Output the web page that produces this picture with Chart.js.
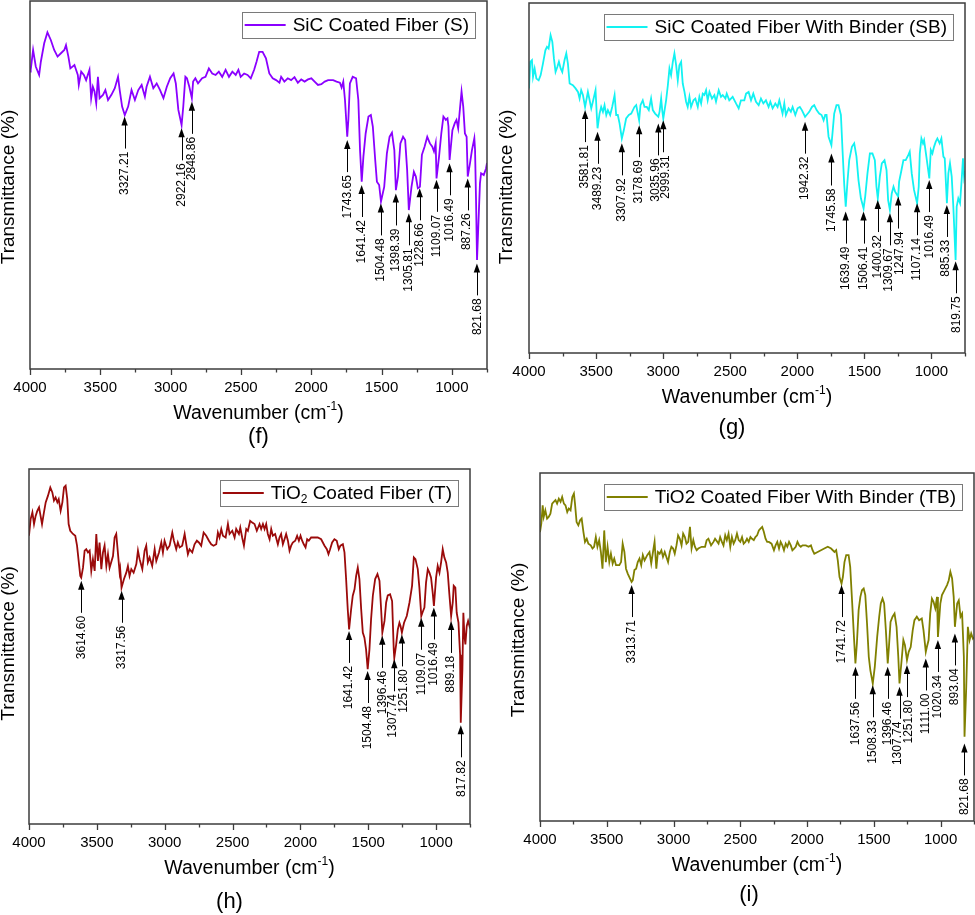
<!DOCTYPE html>
<html><head><meta charset="utf-8">
<script src="https://cdn.jsdelivr.net/npm/chart.js@4.4.0/dist/chart.umd.min.js"></script>
<style>
html,body{margin:0;padding:0;background:#fff;}
#wrap{position:relative;width:975px;height:915px;overflow:hidden;background:#fff;}
canvas{position:absolute;}
</style></head><body><div id="wrap">
<canvas id="cf" width="490" height="465" style="left:0px;top:0px"></canvas>
<canvas id="cg" width="485" height="465" style="left:490px;top:0px"></canvas>
<canvas id="ch" width="490" height="450" style="left:0px;top:465px"></canvas>
<canvas id="ci" width="485" height="450" style="left:490px;top:465px"></canvas>
</div>
<script>
// ---------- shared axis data ----------
const xTickValues = [4000, 3500, 3000, 2500, 2000, 1500, 1000];
const xMinorValues = [3750, 3250, 2750, 2250, 1750, 1250, 750];
const xMax = 4000, xMin = 750;
const xTitle = 'Wavenumber (cm\u207B\u00B9)';
const yTitle = 'Transmittance (%)';

// ---------- (f) SiC coated fiber ----------
const fLabel = 'SiC Coated Fiber (S)';
const fSpectrum = [[4000,80.8],[3995,81.3],[3978,86.7],[3959,82.2],[3935,79.9],[3923,83.5],[3899,88.5],[3876,91.5],[3852,89.4],[3828,86.7],[3804,84.9],[3780,85.8],[3756,86.7],[3744,88.0],[3727,84.9],[3713,81.7],[3684,82.6],[3660,79.9],[3653,77.2],[3636,80.8],[3617,79.9],[3601,78.5],[3577,81.3],[3565,73.6],[3553,76.7],[3541,75.4],[3529,72.2],[3517,79.4],[3505,73.6],[3481,74.5],[3464,75.8],[3445,73.1],[3421,74.5],[3397,76.3],[3374,79.4],[3362,75.8],[3345,71.3],[3326,69.0],[3302,71.3],[3278,75.8],[3254,73.1],[3230,75.8],[3206,77.2],[3183,74.0],[3171,76.7],[3147,79.4],[3123,76.3],[3099,77.6],[3075,75.8],[3051,73.6],[3027,76.7],[3003,79.0],[2979,80.3],[2963,77.6],[2945,70.4],[2922,66.3],[2910,71.3],[2895,79.4],[2884,79.0],[2867,76.7],[2849,73.6],[2840,78.1],[2824,79.0],[2805,77.6],[2776,79.0],[2752,79.4],[2728,81.7],[2704,80.3],[2680,79.9],[2657,80.8],[2633,79.4],[2609,81.3],[2585,79.4],[2561,80.8],[2537,79.9],[2518,81.3],[2502,79.4],[2477,80.3],[2453,79.9],[2430,79.0],[2406,81.3],[2389,83.5],[2370,86.2],[2346,86.2],[2322,84.4],[2298,80.3],[2274,79.0],[2250,78.5],[2226,77.8],[2214,79.4],[2191,78.1],[2167,79.0],[2143,78.5],[2119,79.3],[2095,77.8],[2071,78.7],[2047,78.1],[2023,78.7],[1999,79.0],[1976,78.1],[1952,77.2],[1928,77.4],[1904,78.1],[1880,78.5],[1844,78.5],[1820,78.1],[1796,77.8],[1784,76.5],[1772,78.1],[1760,73.1],[1744,63.1],[1736,67.7],[1725,77.6],[1705,79.4],[1681,79.0],[1665,73.1],[1653,59.5],[1641,50.9],[1629,57.7],[1613,64.0],[1593,68.6],[1576,69.0],[1562,65.9],[1545,56.8],[1533,50.9],[1517,50.0],[1504,45.5],[1481,49.5],[1462,58.6],[1443,63.1],[1426,64.2],[1409,59.5],[1398,48.6],[1383,52.3],[1366,61.3],[1347,63.1],[1332,62.2],[1318,54.1],[1306,43.2],[1287,49.5],[1270,53.6],[1256,52.3],[1242,49.1],[1227,49.5],[1213,58.2],[1194,60.4],[1175,63.1],[1156,61.3],[1139,60.4],[1127,59.1],[1115,61.3],[1109,51.8],[1091,57.7],[1075,64.0],[1060,68.6],[1043,67.7],[1031,68.1],[1024,65.9],[1016,56.8],[996,64.9],[979,66.8],[967,67.7],[955,65.4],[941,71.3],[931,75.4],[919,71.3],[907,64.0],[895,63.1],[887,52.3],[871,55.9],[857,59.5],[840,62.7],[835,59.5],[828,45.9],[821,29.6],[800,50.5],[792,53.2],[773,52.7],[757,54.5],[750,56.0]];
const fPeaks = [3327.21, 2922.16, 2848.86, 1743.65, 1641.42, 1504.48, 1398.39, 1305.81, 1228.66, 1109.07, 1016.49, 887.26, 821.68];
const fPeakTips = [68.6, 65.4, 72.6, 62.2, 50.0, 45.0, 47.7, 42.3, 49.1, 51.4, 55.9, 51.8, 28.7];

// ---------- (g) SiC coated fiber with binder ----------
const gLabel = 'SiC Coated Fiber With Binder (SB)';
const gSpectrum = [[4000,75.6],[3990,83.2],[3978,83.7],[3970,78.9],[3958,81.3],[3945,78.4],[3928,77.9],[3913,79.4],[3896,82.7],[3878,86.5],[3866,87.5],[3854,87.0],[3839,90.8],[3826,88.9],[3814,84.1],[3802,80.3],[3789,81.7],[3777,83.2],[3764,81.3],[3752,80.3],[3735,83.7],[3722,85.6],[3710,82.7],[3697,77.0],[3673,76.5],[3653,75.6],[3635,74.6],[3623,72.7],[3611,75.1],[3598,73.7],[3582,70.3],[3573,72.2],[3561,74.6],[3548,72.2],[3536,69.9],[3524,71.8],[3504,75.1],[3494,67.5],[3489,64.2],[3474,68.4],[3462,70.3],[3449,68.9],[3437,70.8],[3424,68.0],[3412,69.4],[3395,68.0],[3380,70.3],[3362,73.7],[3350,68.0],[3338,68.0],[3325,65.6],[3308,61.3],[3293,63.7],[3276,67.0],[3256,68.0],[3238,68.4],[3214,70.3],[3201,70.8],[3179,66.5],[3169,70.8],[3152,72.2],[3139,70.3],[3122,70.3],[3107,69.4],[3090,72.7],[3077,69.4],[3060,68.4],[3036,67.5],[3027,68.9],[3015,72.7],[3007,69.4],[2999,67.0],[2978,72.2],[2965,76.5],[2953,81.3],[2941,79.4],[2928,83.2],[2916,85.6],[2903,82.2],[2891,77.9],[2879,82.2],[2866,83.2],[2854,77.0],[2841,74.6],[2829,71.8],[2817,70.3],[2804,73.2],[2792,70.3],[2774,72.2],[2760,72.7],[2742,70.3],[2730,73.2],[2717,71.3],[2705,74.1],[2693,73.7],[2680,75.1],[2668,72.2],[2655,74.6],[2636,72.7],[2618,73.7],[2606,71.8],[2586,75.1],[2569,73.2],[2556,73.7],[2536,72.7],[2526,74.1],[2507,72.2],[2482,73.2],[2457,71.3],[2437,69.9],[2420,72.2],[2395,72.2],[2382,74.1],[2363,74.6],[2345,72.2],[2328,74.1],[2308,71.8],[2288,70.8],[2271,72.7],[2253,71.3],[2234,72.2],[2214,70.3],[2201,71.8],[2184,69.9],[2164,71.3],[2147,70.3],[2134,72.2],[2122,70.3],[2110,68.4],[2097,71.3],[2085,68.0],[2065,69.9],[2048,68.9],[2035,70.3],[2015,68.0],[1998,69.9],[1981,70.3],[1966,69.4],[1942,67.5],[1931,68.0],[1911,68.9],[1891,70.3],[1874,70.8],[1856,69.4],[1837,68.4],[1819,68.0],[1804,66.5],[1792,68.0],[1782,68.0],[1767,61.8],[1746,59.4],[1738,62.7],[1725,68.4],[1708,70.8],[1693,70.8],[1675,68.0],[1663,58.0],[1650,48.0],[1639,41.8],[1626,49.0],[1613,55.1],[1593,58.9],[1576,59.9],[1559,56.1],[1544,49.4],[1526,44.2],[1506,41.3],[1494,44.7],[1477,51.3],[1459,57.0],[1440,57.0],[1422,55.1],[1410,47.5],[1400,44.2],[1385,50.4],[1370,54.2],[1350,55.1],[1335,52.3],[1323,43.7],[1310,40.9],[1296,45.6],[1283,47.5],[1271,46.1],[1248,44.7],[1241,49.0],[1226,51.8],[1209,55.1],[1192,55.1],[1172,56.6],[1162,57.5],[1147,51.3],[1130,46.6],[1107,42.8],[1095,47.5],[1087,57.0],[1075,61.3],[1063,59.9],[1055,60.8],[1038,56.1],[1016,49.9],[1005,58.0],[993,57.0],[981,58.9],[968,60.4],[956,61.3],[939,59.9],[926,61.3],[911,56.1],[901,55.6],[885,42.8],[874,51.3],[862,54.2],[849,50.4],[837,41.8],[820,26.6],[812,41.8],[800,44.2],[787,42.8],[775,49.4],[765,55.6],[757,50.4],[750,52.0]];
const gPeaks = [3581.81, 3489.23, 3307.92, 3178.69, 3035.96, 2999.31, 1942.32, 1745.58, 1639.49, 1506.41, 1400.32, 1309.67, 1247.94, 1107.14, 1016.49, 885.33, 819.75];
const gPeakTips = [69.4, 63.2, 59.9, 65.1, 65.6, 66.5, 66.1, 57.0, 40.4, 40.4, 43.7, 39.9, 44.7, 42.8, 49.4, 42.3, 26.2];

// ---------- (h) TiO2 coated fiber ----------
const hLabel = 'TiO\u2082 Coated Fiber (T)';
const hSpectrum = [[4000,81.2],[3988,85.9],[3975,87.8],[3963,84.5],[3951,86.8],[3939,88.2],[3926,89.2],[3917,87.3],[3904,84.5],[3892,87.3],[3877,90.6],[3860,92.5],[3843,94.8],[3828,93.4],[3816,91.1],[3804,92.0],[3791,90.6],[3781,91.5],[3767,88.2],[3754,90.6],[3742,94.8],[3730,95.3],[3718,91.5],[3708,84.5],[3696,82.6],[3676,81.7],[3659,81.2],[3646,78.4],[3634,74.1],[3622,69.9],[3615,69.4],[3602,72.2],[3590,77.0],[3578,77.4],[3565,76.5],[3553,77.0],[3541,71.3],[3529,74.6],[3516,71.3],[3504,81.7],[3492,74.1],[3480,79.3],[3467,71.8],[3455,76.5],[3443,78.4],[3430,72.7],[3418,76.0],[3406,72.2],[3381,75.5],[3369,80.7],[3357,81.7],[3344,76.0],[3332,70.8],[3328,71.8],[3318,66.6],[3300,69.0],[3283,70.8],[3271,72.7],[3259,69.9],[3246,71.8],[3229,70.8],[3209,73.2],[3197,77.0],[3185,74.6],[3165,71.8],[3148,77.0],[3136,78.4],[3124,73.7],[3111,75.1],[3092,72.7],[3074,77.4],[3062,74.1],[3042,76.5],[3025,79.3],[3013,76.5],[3001,79.8],[2981,77.4],[2964,78.4],[2944,82.1],[2932,79.8],[2915,77.4],[2903,79.3],[2890,77.9],[2871,78.4],[2853,81.7],[2841,78.8],[2829,76.0],[2817,77.4],[2797,76.5],[2780,78.8],[2763,79.8],[2748,79.3],[2731,78.4],[2713,82.1],[2694,81.2],[2674,79.8],[2657,78.8],[2640,78.4],[2620,78.8],[2608,82.1],[2596,80.7],[2583,83.1],[2571,81.2],[2551,80.7],[2534,84.5],[2522,81.7],[2502,82.6],[2485,80.7],[2473,83.1],[2453,81.7],[2443,83.5],[2429,80.7],[2416,78.4],[2399,83.1],[2387,82.6],[2370,85.4],[2355,84.9],[2338,84.5],[2321,82.6],[2301,84.5],[2289,83.1],[2276,84.5],[2264,83.1],[2252,84.5],[2240,81.7],[2227,80.2],[2215,83.1],[2203,81.2],[2186,81.7],[2166,78.8],[2154,80.7],[2142,81.7],[2129,78.8],[2117,80.2],[2105,81.7],[2092,79.8],[2080,77.0],[2068,78.4],[2056,79.3],[2038,79.8],[2024,81.2],[2011,79.8],[1999,81.2],[1987,79.8],[1975,78.8],[1962,77.9],[1950,80.2],[1938,79.8],[1921,80.7],[1896,80.7],[1872,80.7],[1847,80.2],[1822,78.4],[1805,77.4],[1793,76.0],[1781,77.4],[1766,79.3],[1749,80.2],[1732,79.8],[1717,77.4],[1705,78.4],[1687,78.8],[1675,76.5],[1663,69.0],[1651,60.5],[1641,54.8],[1626,60.5],[1614,64.3],[1601,66.1],[1589,69.9],[1577,72.2],[1565,69.0],[1552,60.5],[1540,53.9],[1528,52.5],[1516,49.2],[1504,43.6],[1491,49.2],[1479,57.7],[1466,64.3],[1449,69.0],[1432,70.4],[1417,68.5],[1405,60.5],[1396,53.9],[1380,57.2],[1368,62.4],[1356,64.4],[1339,64.7],[1324,62.8],[1312,49.2],[1308,46.8],[1294,50.6],[1282,54.8],[1270,56.7],[1262,55.8],[1252,53.9],[1236,56.7],[1216,58.6],[1196,62.4],[1177,67.1],[1164,75.1],[1152,74.6],[1135,71.8],[1123,66.6],[1109,58.6],[1098,59.8],[1086,61.0],[1074,68.0],[1061,71.8],[1049,70.8],[1037,69.4],[1025,65.2],[1016,61.4],[1000,69.4],[988,72.7],[975,70.8],[963,73.7],[951,77.4],[939,75.1],[926,73.7],[914,70.8],[902,64.7],[889,58.6],[877,62.4],[870,67.1],[858,66.6],[848,59.5],[835,56.7],[823,47.7],[818,28.5],[806,43.6],[799,59.5],[791,53.0],[784,50.6],[774,55.8],[764,57.2],[754,55.8],[750,56.5]];
const hPeaks = [3614.60, 3317.56, 1641.42, 1504.48, 1396.46, 1307.74, 1251.80, 1109.07, 1016.49, 889.18, 817.82];
const hPeakTips = [68.5, 65.7, 54.4, 43.1, 53.0, 46.4, 53.4, 58.1, 61.0, 57.2, 27.8];

// ---------- (i) TiO2 coated fiber with binder ----------
const iLabel = 'TiO2 Coated Fiber With Binder (TB)';
const iSpectrum = [[4000,83.0],[3990,85.5],[3980,90.7],[3972,87.4],[3960,89.3],[3947,86.9],[3935,87.4],[3922,88.3],[3909,91.2],[3897,91.7],[3884,92.2],[3872,91.2],[3859,92.6],[3846,91.7],[3834,93.1],[3821,91.2],[3809,90.7],[3796,88.8],[3784,89.8],[3771,89.3],[3758,93.1],[3746,94.1],[3738,91.2],[3726,85.9],[3713,85.0],[3700,86.4],[3688,86.9],[3675,83.1],[3663,80.2],[3650,81.1],[3638,79.7],[3620,79.2],[3607,78.3],[3595,78.8],[3582,81.6],[3570,78.8],[3557,80.7],[3544,77.3],[3532,72.5],[3519,83.5],[3507,74.4],[3494,78.8],[3481,74.4],[3469,76.8],[3456,74.0],[3444,75.4],[3431,73.5],[3406,73.5],[3393,74.4],[3381,79.7],[3368,77.3],[3356,72.5],[3343,71.1],[3331,70.1],[3314,68.7],[3305,69.2],[3293,72.1],[3280,72.5],[3268,74.4],[3255,75.4],[3242,73.5],[3230,76.4],[3217,74.9],[3197,76.4],[3180,77.3],[3167,74.0],[3154,77.3],[3142,80.2],[3129,72.5],[3117,77.3],[3104,76.8],[3091,77.8],[3079,75.9],[3066,77.3],[3041,74.4],[3028,77.3],[3016,78.8],[3003,78.3],[2991,76.8],[2978,79.2],[2966,82.1],[2953,81.1],[2940,79.2],[2928,82.6],[2915,81.6],[2903,79.7],[2890,80.2],[2877,84.5],[2865,78.3],[2852,80.7],[2840,78.8],[2827,77.8],[2815,78.3],[2789,78.8],[2764,78.8],[2752,80.7],[2739,81.1],[2719,79.2],[2701,80.2],[2689,81.1],[2663,79.7],[2651,81.6],[2638,80.2],[2626,79.2],[2613,82.1],[2601,80.7],[2588,82.6],[2575,78.8],[2563,81.6],[2550,79.7],[2538,80.7],[2525,82.6],[2512,80.7],[2500,80.2],[2487,81.6],[2475,79.7],[2462,80.2],[2450,81.1],[2437,80.2],[2424,81.6],[2412,81.1],[2399,80.7],[2387,81.6],[2374,82.1],[2361,83.5],[2349,84.0],[2336,84.5],[2324,83.1],[2311,81.1],[2299,80.2],[2286,80.2],[2266,79.7],[2248,77.8],[2236,79.2],[2223,80.2],[2210,78.3],[2198,80.2],[2185,79.2],[2173,77.8],[2160,79.7],[2148,78.8],[2135,80.2],[2122,79.2],[2110,77.8],[2097,78.3],[2085,78.8],[2072,80.2],[2059,79.2],[2047,78.8],[2034,79.2],[2009,79.2],[1989,78.8],[1971,79.2],[1959,77.8],[1946,76.8],[1921,77.3],[1896,77.8],[1871,78.3],[1845,78.8],[1820,78.3],[1795,77.3],[1782,77.8],[1770,74.9],[1757,70.1],[1742,68.2],[1732,70.1],[1720,74.4],[1707,76.4],[1689,76.4],[1677,73.0],[1662,62.5],[1649,52.9],[1638,45.3],[1627,51.0],[1614,60.6],[1601,64.4],[1589,66.3],[1576,66.8],[1564,64.9],[1551,56.7],[1538,47.2],[1526,43.3],[1508,39.5],[1493,44.3],[1475,52.9],[1460,58.7],[1448,62.5],[1435,63.9],[1423,62.5],[1410,54.8],[1396,45.3],[1387,50.0],[1375,57.2],[1360,58.7],[1345,59.6],[1330,55.8],[1317,47.2],[1308,39.5],[1292,46.2],[1279,52.0],[1267,50.5],[1252,46.2],[1239,48.6],[1224,50.0],[1209,54.8],[1196,57.7],[1178,58.7],[1161,57.7],[1141,58.2],[1128,54.8],[1111,48.6],[1103,50.0],[1090,52.0],[1078,59.6],[1065,63.9],[1053,63.0],[1040,61.1],[1027,64.4],[1020,52.9],[1002,62.5],[990,64.9],[972,66.3],[952,67.8],[939,69.2],[927,71.6],[914,69.7],[902,64.4],[893,55.8],[876,62.5],[864,63.4],[851,58.7],[839,59.6],[826,47.2],[821,24.2],[808,38.6],[796,55.8],[783,52.0],[771,53.9],[758,52.4],[750,52.8]];
const iPeaks = [3313.71, 1741.72, 1637.56, 1508.33, 1396.46, 1307.74, 1251.80, 1111.00, 1020.34, 893.04, 821.68];
const iPeakTips = [67.8, 67.8, 44.3, 39.0, 44.3, 38.6, 44.8, 46.7, 52.0, 53.9, 22.3];

// ---------- drawing helpers ----------
const FONT = '"Liberation Sans", Arial, Helvetica, sans-serif';
const SUB = {'\u2080':'0','\u2081':'1','\u2082':'2','\u2083':'3'};
const SUP = {'\u207B':'-','\u00B9':'1','\u00B2':'2'};

function richParts(text) {
  const parts = [];
  for (const ch of text) {
    let kind = 'n', c = ch;
    if (SUB[ch]) { kind = 'sub'; c = SUB[ch]; }
    else if (SUP[ch]) { kind = 'sup'; c = SUP[ch]; }
    const last = parts[parts.length - 1];
    if (last && last.kind === kind) last.t += c; else parts.push({kind, t: c});
  }
  return parts;
}
function richWidth(ctx, text, size) {
  let w = 0;
  for (const p of richParts(text)) {
    ctx.font = (p.kind === 'n' ? size : Math.round(size * 0.62)) + 'px ' + FONT;
    w += ctx.measureText(p.t).width;
  }
  return w;
}
function drawRich(ctx, text, x, y, size) { // left aligned, baseline middle
  let cx = x;
  ctx.textAlign = 'left';
  ctx.textBaseline = 'middle';
  for (const p of richParts(text)) {
    let dy = 0;
    if (p.kind === 'n') ctx.font = size + 'px ' + FONT;
    else {
      ctx.font = Math.round(size * 0.62) + 'px ' + FONT;
      dy = p.kind === 'sub' ? size * 0.32 : -size * 0.36;
    }
    ctx.fillText(p.t, cx, y + dy);
    cx += ctx.measureText(p.t).width;
  }
}

const decorPlugin = {
  id: 'panelDecor',
  afterDatasetsDraw(chart, args, o) {
    const ctx = chart.ctx;
    const ca = chart.chartArea;
    const xs = chart.scales.x, ys = chart.scales.y;
    ctx.save();
    // frame
    ctx.strokeStyle = '#3c3c3c';
    ctx.lineWidth = 1.5;
    ctx.strokeRect(ca.left, ca.top, ca.right - ca.left, ca.bottom - ca.top);
    // tick marks (outward)
    ctx.lineWidth = 1.3;
    ctx.beginPath();
    xTickValues.forEach(v => { const px = Math.round(xs.getPixelForValue(v)) + 0.5; ctx.moveTo(px, ca.bottom); ctx.lineTo(px, ca.bottom + 6); });
    xMinorValues.forEach(v => { if (v >= xs.min && v <= xs.max) { const px = Math.round(xs.getPixelForValue(v)) + 0.5; ctx.moveTo(px, ca.bottom); ctx.lineTo(px, ca.bottom + 3.5); } });
    ctx.stroke();

    ctx.fillStyle = '#000';
    // x title
    const xw = richWidth(ctx, xTitle, 19.5);
    drawRich(ctx, xTitle, (ca.left + ca.right) / 2 - xw / 2, ca.bottom + 45, 19.5);
    // y title
    ctx.save();
    ctx.translate(o.yTitleX, (ca.top + ca.bottom) / 2 + o.yTitleDy);
    ctx.rotate(-Math.PI / 2);
    ctx.font = '19px ' + FONT;
    ctx.textAlign = 'center';
    ctx.textBaseline = 'middle';
    ctx.fillText(yTitle, 0, 0);
    ctx.restore();
    // panel letter
    ctx.font = '22px ' + FONT;
    ctx.textAlign = 'center';
    ctx.textBaseline = 'middle';
    ctx.fillText(o.letter, (ca.left + ca.right) / 2 + o.letterDx, ca.bottom + o.letterDy);

    // legend
    const ds = chart.data.datasets[0];
    const tw = richWidth(ctx, ds.label, 19);
    const bw = 51 + tw + 6, bh = 26;
    const bx = ca.right - 12 - bw, by = ca.top + 11;
    ctx.fillStyle = '#fff';
    ctx.fillRect(bx, by, bw, bh);
    ctx.strokeStyle = '#7a7a7a';
    ctx.lineWidth = 1;
    ctx.strokeRect(Math.round(bx) + 0.5, Math.round(by) + 0.5, Math.round(bw), bh);
    ctx.strokeStyle = ds.borderColor;
    ctx.lineWidth = 1.8;
    ctx.beginPath();
    ctx.moveTo(bx + 3, by + bh / 2); ctx.lineTo(bx + 44, by + bh / 2);
    ctx.stroke();
    ctx.fillStyle = '#000';
    drawRich(ctx, ds.label, bx + 51, by + bh / 2 + 0.5, 19);

    // peak annotations
    const peaks = o.peaks, tips = o.tips;
    const px = peaks.map(p => xs.getPixelForValue(p));
    const lx = px.slice();
    const order = px.map((_, k) => k).sort((a, b) => px[a] - px[b]);
    const MINSEP = 10.5;
    for (let k = 1; k < order.length; k++) {
      const a = order[k - 1], b = order[k];
      const d = lx[b] - lx[a];
      if (d < MINSEP) { const s = (MINSEP - d) / 2; lx[a] -= s; lx[b] += s; }
    }
    ctx.fillStyle = '#000';
    ctx.strokeStyle = '#000';
    peaks.forEach((p, k) => {
      const x = px[k];
      const ty = ys.getPixelForValue(tips[k]);
      ctx.beginPath();
      ctx.moveTo(x, ty); ctx.lineTo(x - 3.2, ty + 9); ctx.lineTo(x + 3.2, ty + 9); ctx.closePath();
      ctx.fill();
      ctx.lineWidth = 1;
      ctx.beginPath();
      ctx.moveTo(Math.round(x) + 0.5, ty + 8); ctx.lineTo(Math.round(x) + 0.5, ty + 32);
      ctx.stroke();
      ctx.save();
      ctx.translate(lx[k], ty + 35);
      ctx.rotate(-Math.PI / 2);
      ctx.font = '12px ' + FONT;
      ctx.textAlign = 'right';
      ctx.textBaseline = 'middle';
      ctx.fillText(p.toFixed(2), 0, 0);
      ctx.restore();
    });
    ctx.restore();
  }
};

function makePanel(id, label, spectrum, color, peaks, tips, pad, deco) {
  return new Chart(document.getElementById(id), {
    type: 'line',
    data: {
      datasets: [{
        label: label,
        data: spectrum.map(p => ({x: p[0], y: p[1]})),
        borderColor: color,
        borderWidth: 1.8,
        pointRadius: 0,
        tension: 0,
        fill: false
      }]
    },
    options: {
      responsive: false,
      animation: false,
      devicePixelRatio: 1,
      layout: { padding: pad },
      plugins: {
        legend: { display: false },
        tooltip: { enabled: false },
        panelDecor: Object.assign({ peaks: peaks, tips: tips }, deco)
      },
      scales: {
        x: {
          type: 'linear', reverse: true, min: xMin, max: xMax,
          afterBuildTicks: s => { s.ticks = xTickValues.map(v => ({value: v})); },
          ticks: { font: { family: FONT, size: 15 }, color: '#000', padding: 10, maxRotation: 0, autoSkip: false, callback: v => String(v) },
          grid: { display: false, drawTicks: false },
          border: { display: false }
        },
        y: { display: false, min: 0, max: 100 }
      }
    },
    plugins: [decorPlugin]
  });
}

makePanel('cf', fLabel, fSpectrum, '#8a00ff', fPeaks, fPeakTips,
  {left: 30, right: 3, top: 1, bottom: 58},
  {letter: '(f)', letterDx: 0, letterDy: 68, yTitleX: 9, yTitleDy: 2});
makePanel('cg', gLabel, gSpectrum, '#12f2f2', gPeaks, gPeakTips,
  {left: 39, right: 10, top: 3, bottom: 74},
  {letter: '(g)', letterDx: -15, letterDy: 75, yTitleX: 17, yTitleDy: 9});
makePanel('ch', hLabel, hSpectrum, '#9b0a0a', hPeaks, hPeakTips,
  {left: 29, right: 20, top: 4, bottom: 53},
  {letter: '(h)', letterDx: -20, letterDy: 78, yTitleX: 9, yTitleDy: -3});
makePanel('ci', iLabel, iSpectrum, '#808000', iPeaks, iPeakTips,
  {left: 50, right: 1, top: 8, bottom: 56},
  {letter: '(i)', letterDx: -8, letterDy: 74, yTitleX: 29, yTitleDy: -7});
</script>
</body></html>
